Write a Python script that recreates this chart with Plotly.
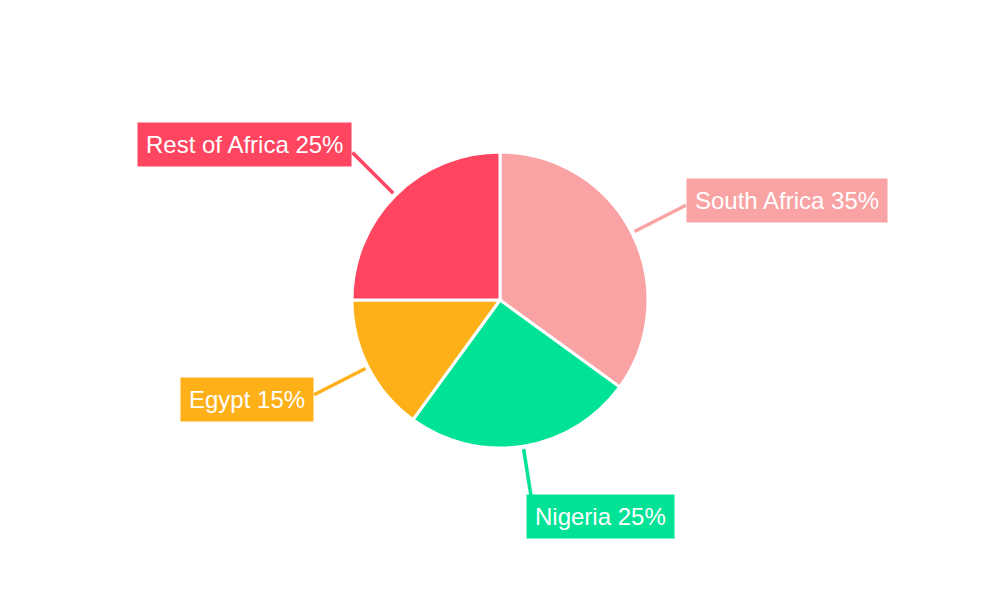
import numpy as np
import plotly.graph_objects as go

labels = ["South Africa", "Nigeria", "Egypt", "Rest of Africa"]
shares = [35, 25, 15, 25]
colors = ["#F9A3A4", "#00E396", "#FEB019", "#FF4560"]

W, H = 1000, 600
# page body adds an 8px offset, so the margins are shifted to keep the pie centred
ML, MR, MT, MB = 92, 108, 144, 160
PW, PH = W - ML - MR, H - MT - MB
R = min(PW, PH) / 2
CX, CY = ML + PW / 2, MT + PH / 2

def to_paper(px, py):
    return (px - ML) / PW, (H - MB - py) / PH

fig = go.Figure(go.Pie(
    labels=labels, values=shares, sort=False, direction="clockwise", rotation=0,
    marker=dict(colors=colors, line=dict(color="white", width=3)),
    textinfo="none", hoverinfo="label+percent", showlegend=False,
))

# callout lines + boxed labels, placed at each slice's mid angle
total = sum(shares)
cum = 0
shapes, annotations = [], []
for lab, val, col in zip(labels, shares, colors):
    mid = (cum + val / 2) / total * 2 * np.pi
    cum += val
    dx, dy = np.sin(mid), -np.cos(mid)
    x0, y0 = to_paper(CX + (R + 3) * dx, CY + (R + 3) * dy)
    x1, y1 = to_paper(CX + 1.41 * R * dx, CY + 1.41 * R * dy)
    shapes.append(dict(type="line", xref="paper", yref="paper", x0=x0, y0=y0, x1=x1, y1=y1,
                       line=dict(color=col, width=3.5)))
    xs = -7 if abs(dy) > 0.9 else 0
    annotations.append(dict(
        xref="paper", yref="paper", x=x1, y=y1,
        xanchor="left" if dx > 0 else "right", yanchor="middle",
        xshift=xs, yshift=-11 * dy,
        text=f"{lab} {val}%", showarrow=False, bgcolor=col, borderpad=8,
        font=dict(family="Liberation Sans, Arial, sans-serif", size=24, color="white"),
    ))

fig.update_layout(
    width=W, height=H, margin=dict(l=ML, r=MR, t=MT, b=MB),
    paper_bgcolor="white", plot_bgcolor="white",
    shapes=shapes, annotations=annotations,
)

fig.write_html("out.html")
